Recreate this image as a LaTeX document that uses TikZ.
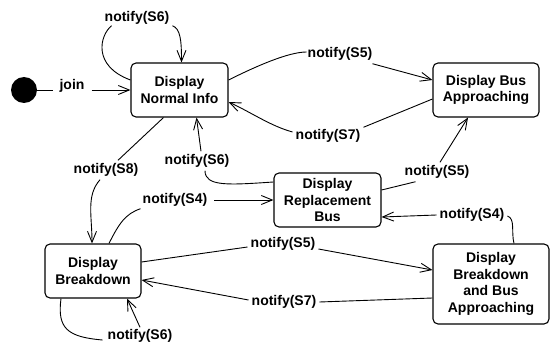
\documentclass[tikz,border=0pt]{standalone}
\usepackage{fontspec}
\setmainfont{Liberation Sans}
\usetikzlibrary{arrows.meta,calc}
\begin{document}
\begin{tikzpicture}[x=1pt,y=-1pt,
  every node/.style={font=\fontsize{14}{16.5}\selectfont\bfseries},
  state/.style={draw,rounded corners=5pt,line width=1.1pt,align=center,inner sep=2pt},
  lbl/.style={inner sep=3pt},
  conn/.style={line width=0.9pt},
  arr/.style={conn,-{Straight Barb[length=11pt,width=9pt,line width=0.9pt]}}]
\useasboundingbox (0,0) rectangle (552,345);
% initial state
\node[circle,fill=black,minimum size=26pt,inner sep=0pt] (init) at (24,90) {};
% states
\node[state,minimum width=97pt,minimum height=54pt] (ni) at (179.5,90) {Display\\Normal Info};
\node[state,minimum width=106pt,minimum height=54pt] (ba) at (486,90) {Display Bus\\Approaching};
\node[state,minimum width=107pt,minimum height=54pt] (rb) at (327.5,200) {Display\\Replacement\\Bus};
\node[state,minimum width=96pt,minimum height=54pt] (bd) at (93,271) {Display\\Breakdown};
\node[state,minimum width=116pt,minimum height=80pt] (bba) at (491,284) {Display\\Breakdown\\and Bus\\Approaching};
% labels
\node[lbl] (join) at (72,86) {join};
\node[lbl] (lS6a) at (137,18) {notify(S6)};
\node[lbl] (lS5a) at (340,54) {notify(S5)};
\node[lbl] (lS7a) at (328,136) {notify(S7)};
\node[lbl] (lS6b) at (197,161) {notify(S6)};
\node[lbl] (lS8) at (106,170) {notify(S8)};
\node[lbl] (lS4a) at (175,200) {notify(S4)};
\node[lbl] (lS5b) at (437,172) {notify(S5)};
\node[lbl] (lS4b) at (472,215) {notify(S4)};
\node[lbl] (lS5c) at (283,244) {notify(S5)};
\node[lbl] (lS7b) at (284,302) {notify(S7)};
\node[lbl] (lS6c) at (140,336) {notify(S6)};
% join
\draw[conn] (init) -- ($(init.east -| join.west)+(-3,0)$);
\draw[arr,shorten <=4pt] (join.east |- ni.west) -- (ni.west);
% self loop on Normal Info
\draw[conn] ($(ni.west)+(0,-10)$) .. controls +(-38,-14) and +(-12,10) .. ($(lS6a.south west)+(10,-2)$);
\draw[arr] ($(lS6a.south east)+(0,-2)$) .. controls +(8,3) and +(0,-22) .. ($(ni.north)+(2,0)$);
% Normal Info -> Bus Approaching
\draw[conn] ($(ni.east)+(0,-10)$) .. controls +(28,-14) and +(-18,0) .. ($(lS5a.west)+(2,-2)$);
\draw[arr] ($(lS5a.south east)+(-3,0)$) -- ($(ba.west)+(0,-10)$);
% Bus Approaching -> Normal Info
\draw[conn] ($(ba.west)+(0,9)$) -- ($(lS7a.north east)+(0,1)$);
\draw[arr] ($(lS7a.west)+(0,-4)$) .. controls +(-22,-6) and +(22,10) .. ($(ni.east)+(0,12)$);
% Normal Info -> Breakdown
\draw[conn] ($(ni.south)+(-16,0)$) -- ($(lS8.north)+(12,0)$);
\draw[arr] ($(lS8.south)+(-6,0)$) .. controls +(-14,16) and +(0,-28) .. ($(bd.north)+(-1,0)$);
% Replacement Bus -> Normal Info
\draw[conn] ($(rb.west)+(0,-18)$) .. controls +(-45,3) and +(0,16) .. ($(lS6b.south)+(8,0)$);
\draw[arr] ($(lS6b.north)+(4,0)$) -- ($(ni.south)+(17,0)$);
% Breakdown -> Replacement Bus
\draw[conn] ($(bd.north)+(16,0)$) .. controls +(10,-20) and +(-15,5) .. ($(lS4a.south west)+(1,-1)$);
\draw[arr,shorten <=4pt] (lS4a.east) -- (rb.west);
% Replacement Bus -> Bus Approaching
\draw[conn] ($(rb.east)+(0,-10)$) -- ($(lS5b.south west)+(14,0)$);
\draw[arr] ($(lS5b.north)+(3,0)$) -- ($(ba.south)+(-18,0)$);
% Breakdown and Bus Approaching -> Replacement Bus
\draw[conn] ($(bba.north)+(23,0)$) .. controls +(-3,-12) and +(8,3) .. ($(lS4b.east)+(0,1)$);
\draw[arr] (lS4b.west) -- ($(rb.east)+(0,17)$);
% Breakdown -> Breakdown and Bus Approaching
\draw[conn] ($(bd.east)+(0,-9)$) -- ($(lS5c.west)+(0,3)$);
\draw[arr] ($(lS5c.east)+(0,5)$) -- ($(bba.west)+(0,-14)$);
% Breakdown and Bus Approaching -> Breakdown
\draw[conn] ($(bba.west)+(0,14)$) -- (lS7b.east);
\draw[arr] ($(lS7b.west)+(0,-2)$) -- ($(bd.east)+(0,9)$);
% self loop on Breakdown
\draw[conn] ($(bd.south)+(-32,0)$) .. controls +(-4,30) and +(-35,-3) .. ($(lS6c.west)+(-2,4)$);
\draw[arr] ($(lS6c.north)+(0,1)$) -- ($(bd.south)+(34,0)$);
\end{tikzpicture}
\end{document}
